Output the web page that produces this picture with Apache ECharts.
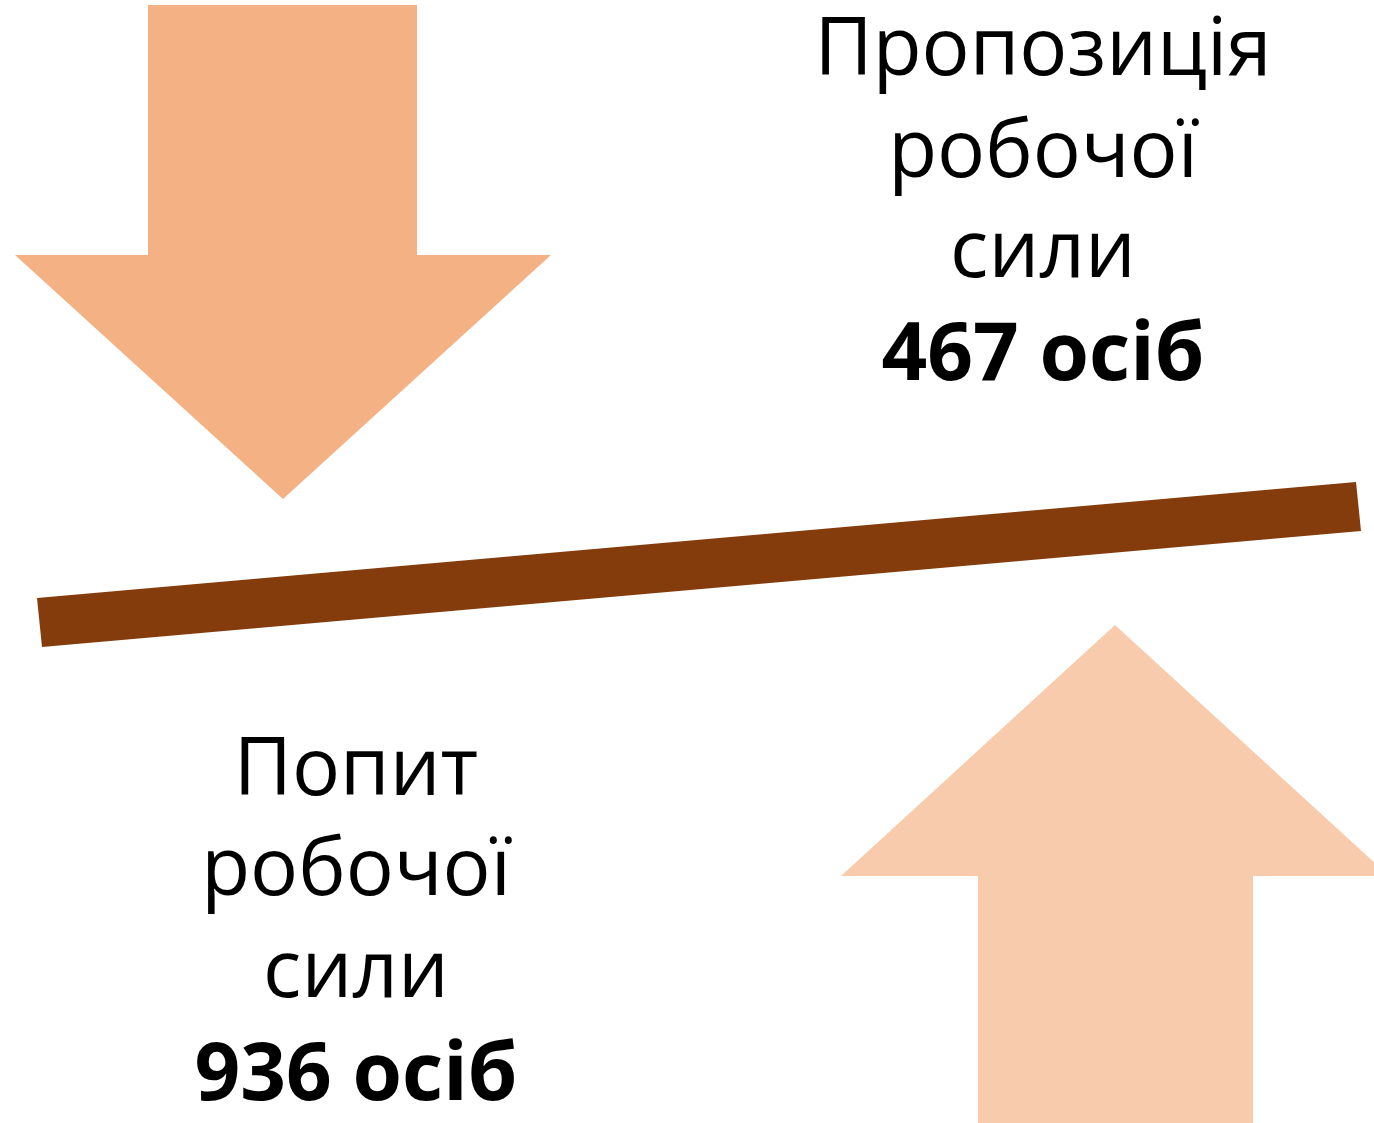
<!DOCTYPE html>
<html><head><meta charset="utf-8">
<script src="https://cdn.jsdelivr.net/npm/echarts@6/dist/echarts.min.js"></script>
<style>html,body{margin:0;padding:0;background:#fff}#c{width:1374px;height:1123px}</style>
</head><body><div id="c"></div>
<script>
const labels = [['Пропозиція', 'робочої', 'сили'], ['Попит', 'робочої', 'сили']];
const values = [467, 936];
const unit = 'осіб';

const chart = echarts.init(document.getElementById('c'));
const FONT = '"Open Sans", sans-serif';
const FS = 80;

function textBlock(lines, value, cx, ys) {
  const out = [];
  lines.forEach((t, i) => out.push({
    type: 'text', x: cx, y: ys[i],
    style: { text: t, font: `${FS}px ${FONT}`, fill: '#000', align: 'center', verticalAlign: 'middle' }
  }));
  out.push({
    type: 'text', x: cx, y: ys[3],
    style: { text: value + ' ' + unit, font: `bold ${FS}px ${FONT}`, fill: '#000', align: 'center', verticalAlign: 'middle' }
  });
  return out;
}

const graphic = [
  { type: 'polygon', shape: { points: [[148,5],[417,5],[417,255],[551,255],[283,499],[15,255],[148,255]] }, style: { fill: '#F4B183' } },
  { type: 'polygon', shape: { points: [[1115,625],[1389,876],[1253,876],[1253,1130],[978,1130],[978,876],[841,876]] }, style: { fill: '#F8CBAD' } },
  { type: 'polygon', shape: { points: [[37,598],[1356,482],[1361,531],[42,647]] }, style: { fill: '#843C0C' } },
  ...textBlock(labels[0], values[0], 1043, [52, 154, 254, 357]),
  ...textBlock(labels[1], values[1], 356, [772, 872, 974, 1077])
];

chart.setOption({ animation: false, graphic: graphic });
</script></body></html>
